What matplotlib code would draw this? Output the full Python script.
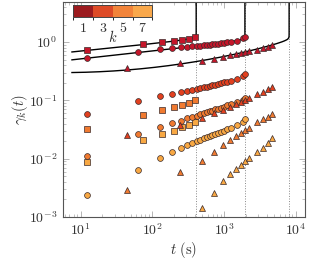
import numpy as np
import matplotlib
matplotlib.use("Agg")
import matplotlib.pyplot as plt
from matplotlib.colors import ListedColormap, BoundaryNorm
from matplotlib.ticker import LogLocator, NullFormatter

plt.rcParams["mathtext.fontset"] = "cm"
plt.rcParams["font.family"] = "DejaVu Serif"

# --- data ---
# squares (series ending ~410 s)
t_sq = [12.5, 75, 137.5, 200, 262.5, 325, 400]
sq_k1 = [0.74, 0.92, 0.99, 1.03, 1.07, 1.11, 1.23]
sq_k5 = [0.032, 0.057, 0.0685, 0.077, 0.083, 0.091, 0.10]
sq_k7 = [0.0089, 0.0208, 0.0264, 0.030, 0.0346, 0.0377, 0.0428]

# circles (series ending ~1960 s)
t_ci = [12.5, 62.5, 128, 190, 250, 307, 360, 415, 466, 520, 572, 630, 685,
        747, 814, 906, 1000, 1120, 1240, 1500, 1820, 1960]
ci_k1 = [0.53, 0.68, 0.75, 0.79, 0.81, 0.83, 0.844, 0.854, 0.864, 0.878, 0.888,
         0.90, 0.913, 0.924, 0.935, 0.95, 0.96, 0.99, 1.0, 1.05, 1.16, 1.23]
ci_k3 = [0.058, 0.097, 0.117, 0.129, 0.139, 0.146, 0.152, 0.158, 0.163, 0.168,
         0.172, 0.177, 0.181, 0.186, 0.191, 0.197, 0.203, 0.21, 0.217, 0.232,
         0.258, 0.28]
ci_k5 = [0.0112, 0.026, 0.0346, 0.0405, 0.045, 0.049, 0.052, 0.055, 0.058, 0.06,
         0.063, 0.065, 0.067, 0.07, 0.072, 0.075, 0.078, 0.082, 0.086, 0.093,
         0.103, 0.112]
ci_k7 = [0.0024, 0.0063, 0.0102, 0.0131, 0.0155, 0.0172, 0.0188, 0.02, 0.0212,
         0.0222, 0.0233, 0.0243, 0.0252, 0.0262, 0.0272, 0.0287, 0.030, 0.032,
         0.034, 0.038, 0.043, 0.048]

# triangles (series ending ~8100 s)
t_tr = [45, 245, 490, 735, 980, 1225, 1470, 1715, 1960, 2205, 2900, 3500, 4100, 4700]
tr_k1 = [0.355, 0.44, 0.48, 0.52, 0.56, 0.60, 0.62, 0.655, 0.68, 0.70, 0.74, 0.79, 0.83, 0.88]
tr_k3 = [0.025, 0.038, 0.049, 0.06, 0.068, 0.077, 0.085, 0.095, 0.103, 0.110,
         0.127, 0.141, 0.155, 0.168]
tr_k5 = [0.0029, 0.0059, 0.009, 0.0128, 0.0175, 0.021, 0.0245, 0.028, 0.031,
         0.034, 0.042, 0.047, 0.052, 0.058]
tr_k7 = [np.nan, np.nan, 0.0014, 0.0026, 0.0041, 0.0055, 0.0067, 0.0079, 0.0093,
         0.0104, 0.0132, 0.0155, 0.0185, 0.023]

# model curves: a * t^(alpha + curv*ln t) * (1 - t/tc)^(-beta)
line_a = [0.525, 0.377, 0.3207]
line_alpha = [0.125, 0.135, -0.0799]
line_curv = [0.0, 0.0, 0.0234]
line_tc = [410, 1960, 8100]
line_beta = [0.03, 0.03, 0.03]

k_labels = [1, 3, 5, 7]
marker_cols = ["#c4162a", "#e2401f", "#f07a30", "#f8a843"]
cbar_cols = ["#9c1b1f", "#dd4b27", "#f2843a", "#f9a84b"]

fig = plt.figure(figsize=(3.1, 2.63), dpi=100)
ax = fig.add_axes([0.2032, 0.175, 0.78, 0.819])

for a, al, cv, tc, be in zip(line_a, line_alpha, line_curv, line_tc, line_beta):
    t = np.concatenate([np.geomspace(7.6, tc * 0.99, 300),
                        tc * (1 - np.geomspace(1e-2, 1e-12, 200))])
    y = a * t ** (al + cv * np.log(t)) * (1 - t / tc) ** (-be)
    t = np.append(t, tc)
    y = np.append(y, 1e3)
    ax.axvline(tc, color="#888888", ls=":", lw=0.7, zorder=1)
    ax.plot(t, y, color="black", lw=1.0, zorder=2)

mk = dict(ls="none", mec="#3a2a2a", mew=0.5, zorder=3)
series = [
    (t_sq, [sq_k1, sq_k5, sq_k7], [0, 2, 3], "s", 3.7),
    (t_ci, [ci_k1, ci_k3, ci_k5, ci_k7], [0, 1, 2, 3], "o", 4.2),
    (t_tr, [tr_k1, tr_k3, tr_k5, tr_k7], [0, 1, 2, 3], "^", 4.0),
]
for tt, ys, ks, m, ms in series:
    for yy, k in zip(ys, ks):
        ax.plot(tt, yy, marker=m, ms=ms, mfc=marker_cols[k], **mk)

ax.set_xscale("log")
ax.set_yscale("log")
ax.set_xlim(5.7, 1.34e4)
ax.set_ylim(1e-3, 4.95)
ax.xaxis.set_minor_locator(LogLocator(base=10, subs=np.arange(2, 10)))
ax.yaxis.set_minor_locator(LogLocator(base=10, subs=np.arange(2, 10)))
ax.xaxis.set_minor_formatter(NullFormatter())
ax.yaxis.set_minor_formatter(NullFormatter())
ax.set_xticks([10, 100, 1000, 10000])
ax.set_xticklabels([r"$10^{1}$", r"$10^{2}$", r"$10^{3}$", r"$10^{4}$"])
ax.set_yticks([1e-3, 1e-2, 1e-1, 1])
ax.set_yticklabels([r"$10^{-3}$", r"$10^{-2}$", r"$10^{-1}$", r"$10^{0}$"])
ax.tick_params(which="both", direction="in", top=True, right=True,
               color="#aaaaaa", labelsize=10, labelcolor="#333333")
ax.tick_params(which="major", length=4, width=0.6, pad=4)
ax.tick_params(which="minor", length=2, width=0.5)
for s in ax.spines.values():
    s.set_color("#555555")
    s.set_linewidth(0.8)

ax.set_xlabel(r"$t\ (\mathrm{s})$", fontsize=10.5, color="#333333", labelpad=1)
ax.set_ylabel(r"$\gamma_k(t)$", fontsize=10.5, color="#333333", labelpad=-1)

# discrete colour bar for k
cax = ax.inset_axes([0.043, 0.93, 0.327, 0.054])
cmap = ListedColormap(cbar_cols)
norm = BoundaryNorm([0, 2, 4, 6, 8], cmap.N)
sm = plt.cm.ScalarMappable(norm=norm, cmap=cmap)
cb = fig.colorbar(sm, cax=cax, orientation="horizontal", ticks=k_labels)
cb.ax.set_xticklabels([rf"${k}$" for k in k_labels])
cb.ax.tick_params(length=0, labelsize=10, labelcolor="#333333", pad=3)
cb.outline.set_edgecolor("#444444")
cb.outline.set_linewidth(0.7)
cb.ax.text(0.5, -1.75, r"$k$", transform=cb.ax.transAxes, ha="center",
           va="center", fontsize=10.5, color="#333333")

fig.savefig("out.png", dpi=100)
